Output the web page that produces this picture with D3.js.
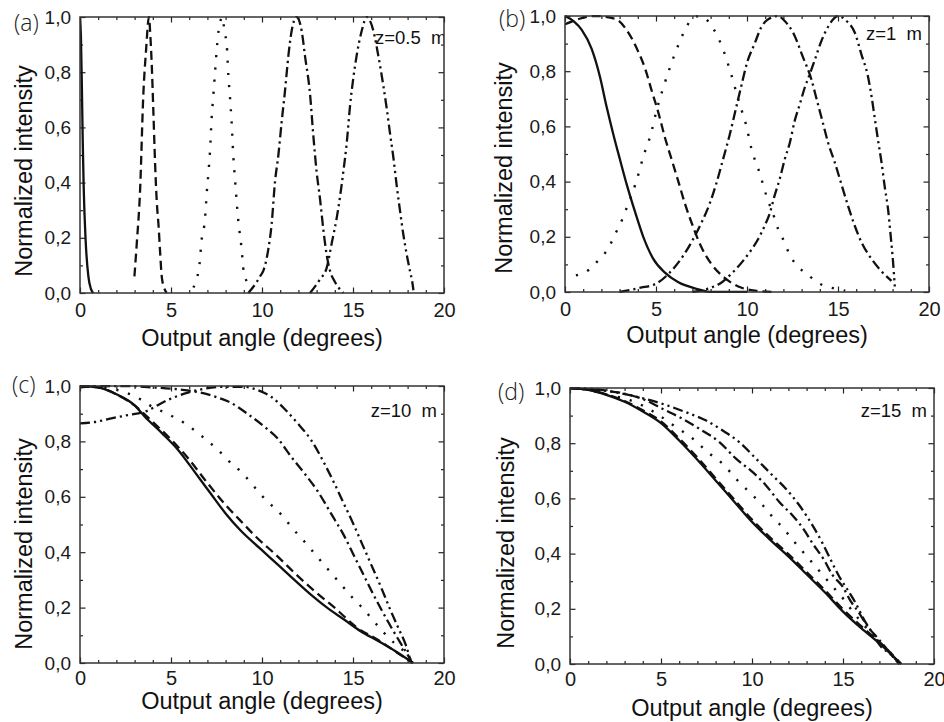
<!DOCTYPE html>
<html>
<head>
<meta charset="utf-8">
<script src="https://cdn.jsdelivr.net/npm/d3@7"></script>
<style>
  body { margin: 0; background: #fff; }
  svg { display: block; font-family: "Liberation Sans", Arial, sans-serif; }
  .tick text { fill: #1a1a1a; }
</style>
</head>
<body>
<div id="chart"></div>
<script>
// [angle (deg), normalized intensity]
const aSolid = [[0,1],[0.05,0.93],[0.1,0.76],[0.15,0.55],[0.2,0.39],[0.31,0.19],[0.46,0.06],[0.6,0.015],[0.73,0]];
const aDash = [[2.99,0.06],[3.12,0.18],[3.3,0.37],[3.48,0.72],[3.63,0.88],[3.79,1.0],[3.85,0.95],[3.94,0.83],[4.03,0.66],[4.12,0.48],[4.21,0.34],[4.32,0.24],[4.4,0.15],[4.49,0.06],[4.62,0.02],[4.76,0]];
const aDot = [[6.23,0.02],[6.45,0.06],[6.56,0.1],[6.68,0.19],[6.87,0.27],[6.96,0.36],[7.05,0.43],[7.14,0.51],[7.23,0.63],[7.33,0.72],[7.42,0.8],[7.51,0.88],[7.66,0.97],[7.84,1.0],[7.93,0.95],[8.06,0.9],[8.15,0.79],[8.24,0.71],[8.33,0.62],[8.42,0.5],[8.52,0.41],[8.61,0.33],[8.7,0.26],[8.79,0.21],[8.88,0.16],[8.97,0.09],[9.16,0.04],[9.25,0.02]];
const aDashDot = [[9.25,0],[9.71,0.04],[9.89,0.06],[10.07,0.08],[10.35,0.16],[10.53,0.25],[10.71,0.4],[10.9,0.5],[11.08,0.62],[11.26,0.73],[11.45,0.86],[11.63,0.95],[11.9,1.0],[12.18,0.95],[12.36,0.86],[12.64,0.72],[12.82,0.57],[13.0,0.44],[13.19,0.34],[13.37,0.23],[13.55,0.14],[13.74,0.08],[14.01,0.04],[14.47,0]];
const aDashDotDot = [[12.64,0],[13.19,0.05],[13.55,0.09],[13.83,0.18],[14.1,0.27],[14.29,0.35],[14.47,0.44],[14.65,0.54],[14.84,0.68],[15.02,0.78],[15.2,0.86],[15.48,0.95],[15.75,1.0],[16.12,0.95],[16.39,0.86],[16.67,0.75],[16.85,0.67],[17.03,0.58],[17.22,0.49],[17.4,0.39],[17.58,0.3],[17.77,0.21],[17.95,0.14],[18.13,0.08],[18.28,0.03],[18.32,0.01]];

const bSolid = [[0,1],[0.5,0.98],[0.92,0.95],[1.47,0.88],[1.92,0.78],[2.29,0.67],[2.66,0.57],[3.02,0.48],[3.39,0.39],[3.85,0.29],[4.3,0.2],[4.85,0.12],[5.49,0.07],[6.23,0.035],[7.33,0.01],[8.06,0],[10,0]];
const bDash = [[0,0.97],[0.8,0.99],[1.65,1.0],[2.75,0.99],[3.48,0.94],[4.03,0.87],[4.4,0.81],[4.76,0.73],[5.13,0.65],[5.49,0.56],[5.86,0.48],[6.23,0.4],[6.59,0.32],[6.96,0.25],[7.51,0.16],[8.06,0.1],[8.79,0.05],[9.52,0.02],[10.44,0.005],[11.5,0]];
const bDot = [[0.6,0.06],[1.3,0.08],[1.9,0.12],[2.4,0.16],[2.75,0.21],[3.0,0.24],[3.3,0.29],[3.6,0.34],[3.96,0.41],[4.3,0.49],[4.75,0.58],[5.0,0.65],[5.4,0.74],[5.8,0.82],[6.26,0.9],[6.52,0.94],[7.0,0.99],[7.4,1.0],[8.1,0.96],[8.68,0.88],[9.08,0.8],[9.6,0.68],[9.97,0.6],[10.24,0.52],[10.7,0.43],[11.06,0.35],[11.5,0.27],[11.7,0.23],[12.06,0.18],[12.34,0.135],[12.8,0.093],[13.44,0.057],[14.08,0.027],[14.72,0.014],[15.4,0.005]];
const bDashDot = [[3.0,0],[4.1,0.015],[5.0,0.03],[5.75,0.07],[6.48,0.13],[7.03,0.19],[7.49,0.25],[7.95,0.32],[8.3,0.39],[8.68,0.48],[9.05,0.57],[9.41,0.67],[9.7,0.75],[10.0,0.83],[10.42,0.9],[10.79,0.96],[11.1,0.985],[11.7,1.0],[12.1,0.98],[12.53,0.94],[13.08,0.85],[13.54,0.77],[13.82,0.7],[14.18,0.61],[14.46,0.54],[14.82,0.47],[15.19,0.39],[15.56,0.31],[15.92,0.24],[16.29,0.18],[16.84,0.12],[17.39,0.075],[17.94,0.04]];
const bDashDotDot = [[7.0,0],[8.0,0.015],[8.5,0.03],[9.2,0.07],[9.87,0.12],[10.24,0.153],[10.6,0.19],[10.97,0.24],[11.25,0.285],[11.52,0.35],[11.8,0.41],[12.07,0.48],[12.35,0.54],[12.62,0.62],[12.9,0.68],[13.17,0.74],[13.45,0.79],[13.72,0.84],[14.09,0.91],[14.45,0.96],[15.0,1.0],[15.5,0.98],[15.92,0.94],[16.29,0.86],[16.65,0.78],[16.84,0.71],[17.02,0.63],[17.2,0.55],[17.39,0.47],[17.57,0.38],[17.75,0.3],[17.9,0.2],[18.03,0.105],[18.12,0.02]];

const cSolid = [[0,1],[1,0.995],[2,0.97],[3,0.93],[3.55,0.89],[4.5,0.83],[5.38,0.77],[6.3,0.69],[7.2,0.61],[8.0,0.54],[8.8,0.48],[9.95,0.41],[10.87,0.355],[11.78,0.3],[12.7,0.246],[13.61,0.198],[14.53,0.156],[15.44,0.114],[16.36,0.08],[17.27,0.045],[18.3,0]];
const cDash = [[0,1],[1,0.995],[2,0.97],[3,0.93],[4,0.87],[4.8,0.82],[5.93,0.74],[7,0.65],[7.94,0.575],[8.8,0.515],[9.68,0.455],[10.77,0.39],[11.87,0.32],[12.88,0.26],[14.07,0.195],[15.17,0.13],[16.36,0.084],[17.45,0.036],[18.3,0]];
const cDot = [[0,1],[1,0.998],[1.65,0.99],[2.27,0.982],[2.93,0.965],[3.37,0.95],[3.84,0.93],[4.4,0.912],[5.0,0.893],[5.74,0.866],[6.93,0.806],[7.57,0.77],[8.21,0.727],[8.85,0.69],[9.4,0.65],[9.95,0.607],[10.6,0.565],[11.14,0.53],[11.69,0.485],[12.24,0.445],[12.79,0.403],[13.34,0.36],[13.89,0.318],[14.43,0.277],[14.98,0.235],[15.53,0.198],[16.08,0.156],[16.63,0.114],[17.27,0.072],[17.9,0.036],[18.3,0]];
const cDashDot = [[0,0.995],[1,1.0],[2.5,1.0],[4,0.995],[5.5,0.987],[6.7,0.975],[7.5,0.96],[8.12,0.945],[9.4,0.89],[10.13,0.853],[10.87,0.81],[11.6,0.745],[12.33,0.685],[13.06,0.62],[13.79,0.54],[14.53,0.457],[15.07,0.385],[15.62,0.313],[16.1,0.25],[16.54,0.195],[17.09,0.13],[17.63,0.07],[18.0,0.03],[18.25,0]];
const cDashDotDot = [[0,0.865],[0.8,0.87],[1.72,0.883],[2.63,0.895],[3.55,0.907],[4.83,0.95],[5.93,0.976],[6.66,0.988],[7.76,0.997],[9.04,0.997],[9.77,0.985],[10.5,0.961],[11.23,0.918],[11.96,0.865],[12.7,0.805],[13.43,0.72],[14.0,0.645],[14.5,0.575],[15.0,0.505],[15.5,0.43],[16.0,0.355],[16.5,0.28],[17.0,0.2],[17.5,0.125],[17.9,0.065],[18.2,0]];

const dSolid = [[0,1],[1,0.993],[2,0.975],[3,0.95],[4,0.915],[5,0.873],[6,0.81],[7,0.74],[8,0.665],[9,0.59],[10,0.515],[11,0.45],[12,0.39],[13,0.325],[14,0.26],[15,0.19],[16,0.13],[17,0.075],[18.2,0]];
const dDash = [[0,1],[1,0.994],[2,0.977],[3,0.953],[4,0.919],[5,0.879],[6,0.817],[7,0.748],[8,0.673],[9,0.598],[10,0.523],[11,0.458],[12,0.398],[13,0.333],[14,0.268],[15,0.198],[16,0.137],[17,0.08],[18.2,0]];
const dDot = [[0,1],[1,0.993],[2.18,0.973],[3.1,0.96],[4.0,0.936],[4.92,0.9],[5.83,0.858],[6.75,0.816],[7.57,0.767],[8.4,0.725],[9.12,0.671],[9.85,0.623],[10.59,0.575],[11.13,0.533],[11.77,0.488],[12.32,0.443],[12.87,0.401],[13.42,0.359],[13.96,0.317],[14.51,0.275],[15.06,0.233],[15.52,0.191],[15.97,0.155],[16.52,0.112],[17.07,0.07],[17.62,0.04],[18.1,0]];
const dDashDot = [[0,1],[1.5,0.993],[3.1,0.978],[4.0,0.96],[5.1,0.924],[6.2,0.888],[7.11,0.852],[8.21,0.804],[9.12,0.744],[10.04,0.695],[10.77,0.647],[11.5,0.587],[12.23,0.538],[12.85,0.487],[13.33,0.437],[13.96,0.377],[14.42,0.323],[14.97,0.281],[15.43,0.227],[15.88,0.185],[16.34,0.137],[16.89,0.095],[17.35,0.059],[17.71,0.028],[18.1,0]];
const dDashDotDot = [[0,1],[1.5,0.995],[2.54,0.984],[3.82,0.966],[5.1,0.942],[6.38,0.912],[7.48,0.882],[8.39,0.846],[9.3,0.804],[10.22,0.744],[11.13,0.683],[11.86,0.635],[12.6,0.575],[13.4,0.494],[13.88,0.437],[14.33,0.377],[14.79,0.317],[15.25,0.269],[15.7,0.22],[16.16,0.16],[16.62,0.112],[17.07,0.064],[17.53,0.04],[17.9,0.016],[18.1,0]];

const xMajor = [0, 5, 10, 15, 20];
const yMajor = [0, 0.2, 0.4, 0.6, 0.8, 1.0];
const xTitle = 'Output angle (degrees)';
const yTitle = 'Normalized intensity';

// line styles: solid, dashed, dotted, dash-dot, dash-dot-dot
const dashes = [null, '9,5', '2.2,10', '10,4,2.2,4', '10,4,2.2,4,2.2,4'];

const nb = '\u00a0\u00a0';
const panels = [
  { tag: '(a)', z: 'z=0.5' + nb + 'm', box: { l: 80, r: 444, t: 17, b: 293 }, tagPos: [14, 31], zPos: [375, 44, 'start'],
    yt: [32, 171], xt: [262, 346], series: [aSolid, aDash, aDot, aDashDot, aDashDotDot] },
  { tag: '(b)', z: 'z=1' + nb + 'm', box: { l: 565, r: 929, t: 16, b: 292 }, tagPos: [499, 27], zPos: [922, 40, 'end'],
    yt: [512, 168], xt: [747, 343], series: [bSolid, bDash, bDot, bDashDot, bDashDotDot] },
  { tag: '(c)', z: 'z=10' + nb + 'm', box: { l: 80, r: 444, t: 386, b: 663 }, tagPos: [12, 393], zPos: [437, 417, 'end'],
    yt: [32, 544], xt: [262, 709], series: [cSolid, cDash, cDot, cDashDot, cDashDotDot] },
  { tag: '(d)', z: 'z=15' + nb + 'm', box: { l: 570, r: 934, t: 388, b: 664 }, tagPos: [498, 400], zPos: [927, 417, 'end'],
    yt: [514, 543], xt: [752, 716], series: [dSolid, dDash, dDot, dDashDot, dDashDotDot] }
];

const W = 944, H = 722;
const fmt = d3.formatLocale({ decimal: ',', thousands: ' ', grouping: [3], currency: ['', ''] }).format('.1f');
const svg = d3.select('#chart').append('svg').attr('width', W).attr('height', H).attr('viewBox', `0 0 ${W} ${H}`);

panels.forEach((p, i) => {
  const B = p.box;
  const x = d3.scaleLinear().domain([0, 20]).range([B.l, B.r]);
  const y = d3.scaleLinear().domain([0, 1]).range([B.b, B.t]);
  const g = svg.append('g');

  const clipId = 'clip' + i;
  svg.append('clipPath').attr('id', clipId).append('rect')
    .attr('x', B.l).attr('y', B.t - 1).attr('width', B.r - B.l).attr('height', B.b - B.t + 2);

  const xMinor = d3.range(0, 21, 1).filter(v => v % 5 !== 0);
  const yMinor = d3.range(1, 10, 2).map(v => v / 10);
  const strip = s => s.select('.domain').remove();
  const pad = i < 2 ? 10 : 8;

  // bottom + left with labels, top + right bare, ticks pointing in
  g.append('g').attr('transform', `translate(0,${B.b})`).style('font-size', '20px')
    .call(d3.axisBottom(x).tickValues(xMajor).tickSize(-5.5).tickPadding(pad).tickFormat(d3.format('d'))).call(strip);
  g.append('g').attr('transform', `translate(0,${B.b})`)
    .call(d3.axisBottom(x).tickValues(xMinor).tickSize(-3).tickFormat('')).call(strip);
  g.append('g').attr('transform', `translate(0,${B.t})`)
    .call(d3.axisTop(x).tickValues(xMajor).tickSize(-5.5).tickFormat('')).call(strip);
  g.append('g').attr('transform', `translate(0,${B.t})`)
    .call(d3.axisTop(x).tickValues(xMinor).tickSize(-3).tickFormat('')).call(strip);

  g.append('g').attr('transform', `translate(${B.l},0)`).style('font-size', '19px')
    .call(d3.axisLeft(y).tickValues(yMajor).tickSize(-5.5).tickPadding(9).tickFormat(fmt)).call(strip);
  g.append('g').attr('transform', `translate(${B.l},0)`)
    .call(d3.axisLeft(y).tickValues(yMinor).tickSize(-3).tickFormat('')).call(strip);
  g.append('g').attr('transform', `translate(${B.r},0)`)
    .call(d3.axisRight(y).tickValues(yMajor).tickSize(-5.5).tickFormat('')).call(strip);
  g.append('g').attr('transform', `translate(${B.r},0)`)
    .call(d3.axisRight(y).tickValues(yMinor).tickSize(-3).tickFormat('')).call(strip);

  g.selectAll('.tick line').attr('stroke', '#222').attr('stroke-width', 1.2);
  g.selectAll('.tick text').attr('font-family', '"Liberation Sans", Arial, sans-serif');

  const line = d3.line().x(d => x(d[0])).y(d => y(d[1])).curve(d3.curveMonotoneX);
  const lines = g.append('g').attr('clip-path', `url(#${clipId})`);
  p.series.forEach((s, k) => {
    lines.append('path').datum(s)
      .attr('d', line)
      .attr('fill', 'none')
      .attr('stroke', '#111')
      .attr('stroke-width', k === 2 ? 2.4 : 2.3)
      .attr('stroke-dasharray', dashes[k]);
  });

  lines.append('text')
    .attr('x', p.zPos[0]).attr('y', p.zPos[1]).attr('text-anchor', p.zPos[2])
    .style('font-size', '18.5px').attr('fill', '#111').text(p.z);

  g.append('rect').attr('x', B.l).attr('y', B.t).attr('width', B.r - B.l).attr('height', B.b - B.t)
    .attr('fill', 'none').attr('stroke', '#333').attr('stroke-width', 1.5);

  g.append('text').attr('x', p.tagPos[0]).attr('y', p.tagPos[1])
    .style('font-family', '"Open Sans", sans-serif').style('font-weight', 300)
    .style('font-size', '23px').attr('fill', '#222').text(p.tag);

  g.append('text').attr('transform', `translate(${p.xt[0]},${p.xt[1]})`).attr('text-anchor', 'middle')
    .style('font-size', '23.5px').attr('fill', '#111').text(xTitle);
  g.append('text').attr('transform', `translate(${p.yt[0]},${p.yt[1]}) rotate(-90)`).attr('text-anchor', 'middle')
    .style('font-size', '23.5px').attr('fill', '#111').text(yTitle);
});
</script>
</body>
</html>
